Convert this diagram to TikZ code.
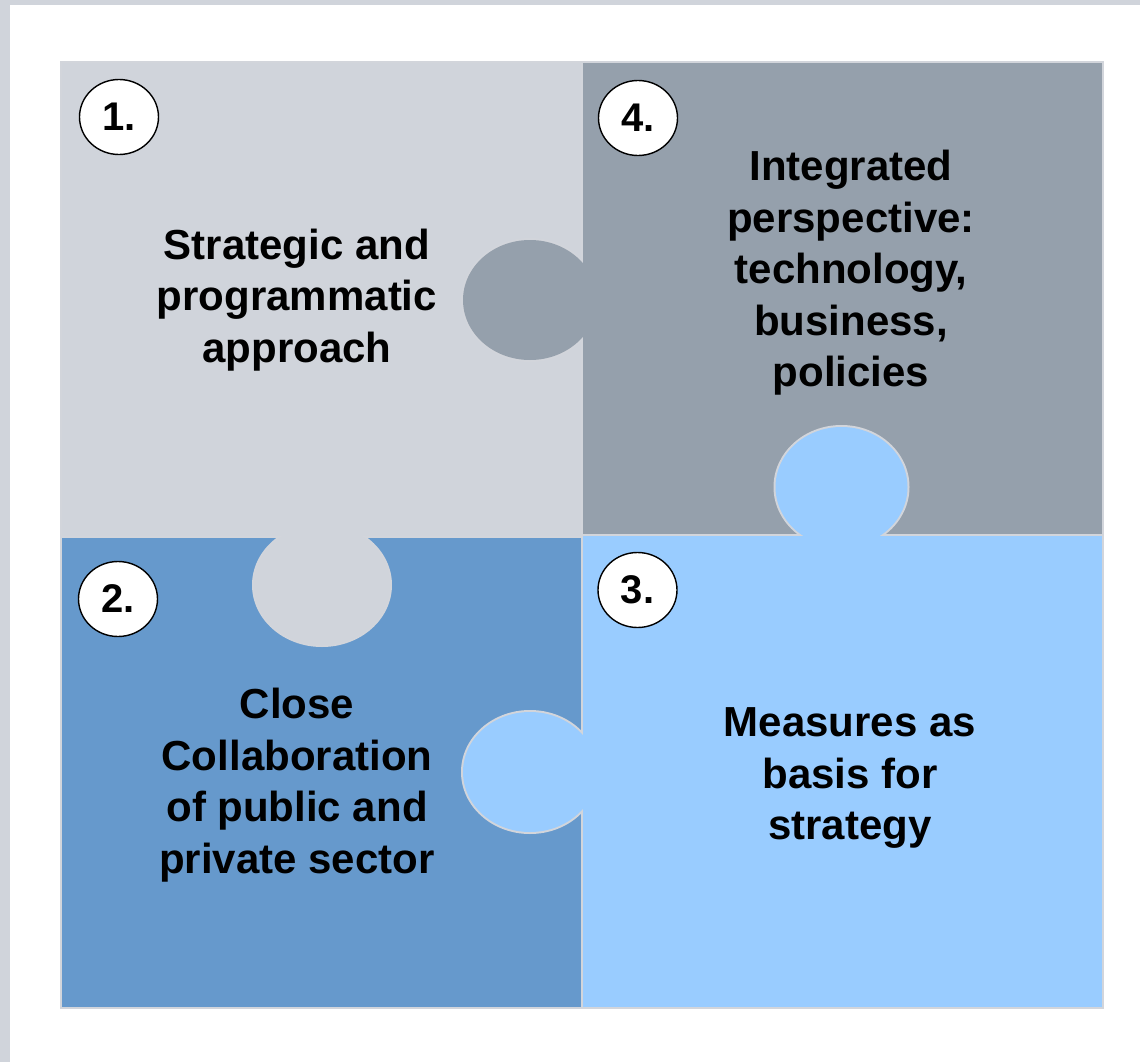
\documentclass[tikz,border=0pt]{standalone}
\usepackage{fontspec}
\setmainfont{Liberation Sans}
\usetikzlibrary{shapes.geometric}
\definecolor{bggray}{HTML}{D0D4DB}
\definecolor{qone}{HTML}{D0D4DB}
\definecolor{qfour}{HTML}{95A0AC}
\definecolor{qtwo}{HTML}{6699CC}
\definecolor{qthree}{HTML}{99CCFF}
\definecolor{edgegray}{HTML}{D2D5DB}
\tikzset{
  edgestroke/.style={draw=edgegray, line width=4pt},
  numcircle/.style={ellipse, draw=black, line width=1.4pt, fill=white,
    minimum width=79pt, minimum height=75pt, inner sep=0pt,
    font=\bfseries\fontsize{40}{44}\selectfont},
  bigtext/.style={align=center, text=black,
    font=\bfseries\fontsize{42}{51.5}\selectfont}
}
\begin{document}
\begin{tikzpicture}[x=1pt,y=-1pt]
\useasboundingbox (0,0) rectangle (1140,1062);
% background
\fill[bggray] (0,0) rectangle (1140,1062);
\fill[white] (10,5) rectangle (1140,1062);
% piece 2 (bottom-left)
\path[edgestroke] (62,536) rectangle (583,1007);
\fill[qtwo] (62,536) rectangle (583,1007);
% piece 1 (top-left) with tab into piece 2
\path[edgestroke] (62,63) rectangle (583,536);
\path[edgestroke] (322,585) ellipse [x radius=68pt, y radius=60pt];
\fill[qone] (62,63) rectangle (583,536);
\fill[qone] (322,585) ellipse [x radius=68pt, y radius=60pt];
% piece 4 (top-right) with tab into piece 1
\path[edgestroke] (583,63) rectangle (1102,536);
\path[edgestroke] (530,300) ellipse [x radius=67pt, y radius=60pt];
\fill[qfour] (583,63) rectangle (1102,536);
\fill[qfour] (530,300) ellipse [x radius=67pt, y radius=60pt];
% piece 3 (bottom-right) with tabs into pieces 4 and 2
\path[edgestroke] (583,536) rectangle (1102,1007);
\path[edgestroke] (841.5,487) ellipse [x radius=66pt, y radius=60pt];
\path[edgestroke] (530,772) ellipse [x radius=67pt, y radius=60pt];
\fill[qthree] (583,536) rectangle (1102,1007);
\fill[qthree] (841.5,487) ellipse [x radius=66pt, y radius=60pt];
\fill[qthree] (530,772) ellipse [x radius=67pt, y radius=60pt];
% number circles
\node[numcircle] (n1) at (119,117) {1.};
\node[numcircle] (n4) at (638,118) {4.};
\node[numcircle] (n2) at (118,599) {2.};
\node[numcircle] (n3) at (637.5,590) {3.};
% texts
\node[bigtext] (t1) at (297,300) {Strategic and\\programmatic\\approach};
\node[bigtext] (t4) at (851,273) {Integrated\\perspective:\\technology,\\business,\\policies};
\node[bigtext] (t2) at (297,785) {Close\\Collaboration\\of public and\\private sector};
\node[bigtext] (t3) at (850,778) {Measures as\\basis for\\strategy};
\end{tikzpicture}
\end{document}
